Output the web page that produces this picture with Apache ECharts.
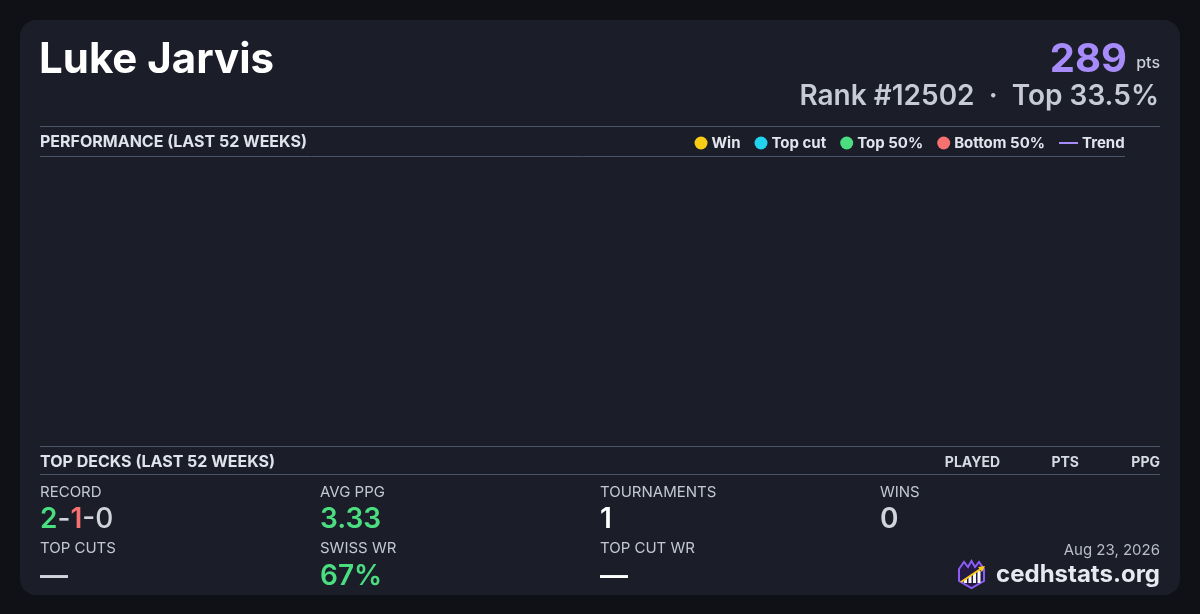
<!DOCTYPE html>
<html>
<head>
<meta charset="utf-8">
<script src="https://cdn.jsdelivr.net/npm/echarts@6/dist/echarts.min.js"></script>
<style>
html,body{margin:0;padding:0;background:#101116;}
#c{width:1200px;height:614px;}
</style>
</head>
<body>
<div id="c"></div>
<script>
// ---- data ----
const playerName = 'Luke Jarvis';
const points = '289';
const rankLine = 'Rank #12502  ·  Top 33.5%';
const perfTitle = 'PERFORMANCE (LAST 52 WEEKS)';
const decksTitle = 'TOP DECKS (LAST 52 WEEKS)';
const deckHeaders = ['PLAYED', 'PTS', 'PPG'];
const legendNames = ['Win', 'Top cut', 'Top 50%', 'Bottom 50%', 'Trend'];
const legendColors = ['#facc15', '#22d3ee', '#4ade80', '#f87171', '#a78bfa'];
const winPoints = [];
const topCutPoints = [];
const top50Points = [];
const bottom50Points = [];
const trendPoints = [];
const record = ['2', '1', '0'];
const statLabelsRow1 = ['RECORD', 'AVG PPG', 'TOURNAMENTS', 'WINS'];
const statValuesRow1 = [null, '3.33', '1', '0'];
const statLabelsRow2 = ['TOP CUTS', 'SWISS WR', 'TOP CUT WR'];
const statValuesRow2 = ['—', '67%', '—'];
const dateText = 'Aug 23, 2026';
const siteText = 'cedhstats.org';

const FONT = 'Inter, "Noto Sans", sans-serif';
const chart = echarts.init(document.getElementById('c'), null, {renderer: 'canvas'});

function txt(x, y, text, font, fill, align, extra) {
  return Object.assign({
    type: 'text', silent: true,
    style: {x: x, y: y, text: text, font: font, fill: fill, textAlign: align || 'left', textVerticalAlign: 'middle'}
  }, extra || {});
}
function hline(x1, x2, y) {
  return {type: 'line', silent: true, shape: {x1: x1, y1: y, x2: x2, y2: y}, style: {stroke: '#4a5569', lineWidth: 1}};
}

const colX = [40, 320, 600, 880];
const row1Colors = [null, '#4ade80', '#ffffff', '#d1d5db'];
const row2Colors = ['#d1d5db', '#4ade80', '#ffffff'];

const graphics = [
  {type: 'rect', silent: true, z: -10, shape: {x: 20, y: 20, width: 1160, height: 575, r: 16}, style: {fill: '#1b1d29'}},
  txt(39, 60, playerName, 'bold 42px ' + FONT, '#ffffff'),
  txt(1127, 60, points, 'bold 40px ' + FONT, '#a78bfa', 'right'),
  txt(1160, 63, 'pts', '500 16px ' + FONT, '#c9cdd8', 'right'),
  txt(1159, 97, rankLine, '600 28px ' + FONT, '#c6cbd6', 'right'),
  hline(40, 1160, 126.5),
  txt(40, 142.5, perfTitle, 'bold 16px ' + FONT, '#dfe3ec'),
  hline(40, 1125, 156.5),
  hline(40, 1160, 446.5),
  txt(40, 462.5, decksTitle, 'bold 16px ' + FONT, '#dfe3ec'),
  txt(1000, 462.5, deckHeaders[0], 'bold 14px ' + FONT, '#d6dae3', 'right'),
  txt(1079, 462.5, deckHeaders[1], 'bold 14px ' + FONT, '#d6dae3', 'right'),
  txt(1160, 462.5, deckHeaders[2], 'bold 14px ' + FONT, '#d6dae3', 'right'),
  hline(40, 1160, 474.5),
  txt(1160, 550, dateText, '15px ' + FONT, '#b9bec9', 'right'),
  txt(1160, 575, siteText, 'bold 24px ' + FONT, '#e6e9f0', 'right')
];

statLabelsRow1.forEach(function (l, i) {
  graphics.push(txt(colX[i], 492.5, l, '15px ' + FONT, '#c3c8d3'));
  if (i === 0) {
    graphics.push({
      type: 'text', silent: true,
      style: {
        x: colX[0], y: 520, textVerticalAlign: 'middle',
        text: '{g|' + record[0] + '}{m|-}{r|' + record[1] + '}{m|-' + record[2] + '}',
        rich: {
          g: {font: '600 28px ' + FONT, fill: '#4ade80'},
          r: {font: '600 28px ' + FONT, fill: '#f87171'},
          m: {font: '500 28px ' + FONT, fill: '#d1d5db'}
        }
      }
    });
  } else {
    graphics.push(txt(colX[i], 520, statValuesRow1[i], '600 28px ' + FONT, row1Colors[i]));
  }
});
statLabelsRow2.forEach(function (l, i) {
  graphics.push(txt(colX[i], 548.5, l, '15px ' + FONT, '#c3c8d3'));
  graphics.push(txt(colX[i], 577, statValuesRow2[i], '600 28px ' + FONT, row2Colors[i]));
});

// logo
graphics.push({
  type: 'group', x: 957, y: 560, silent: true,
  children: [
    {type: 'polygon', shape: {points: [[2, 9], [7, 2], [11, 7], [14.5, 1], [18, 7], [22, 2], [27, 9], [27, 21], [14.5, 28], [2, 21]]},
     style: {fill: '#241a44', stroke: '#8b5cf6', lineWidth: 2}},
    {type: 'rect', shape: {x: 7, y: 19, width: 3, height: 4}, style: {fill: '#f3f4f6'}},
    {type: 'rect', shape: {x: 11.5, y: 16, width: 3, height: 7}, style: {fill: '#f3f4f6'}},
    {type: 'rect', shape: {x: 16, y: 13, width: 3, height: 10}, style: {fill: '#f3f4f6'}},
    {type: 'rect', shape: {x: 20.5, y: 11, width: 3, height: 12}, style: {fill: '#f3f4f6'}},
    {type: 'line', shape: {x1: 4, y1: 22, x2: 25, y2: 8}, style: {stroke: '#facc15', lineWidth: 2}},
    {type: 'polygon', shape: {points: [[28, 6], [21, 7], [25, 12]]}, style: {fill: '#facc15'}}
  ]
});

const seriesData = [winPoints, topCutPoints, top50Points, bottom50Points];
const series = seriesData.map(function (d, i) {
  return {name: legendNames[i], type: 'scatter', data: d, symbolSize: 10, itemStyle: {color: legendColors[i], opacity: 1}};
});
series.push({name: legendNames[4], type: 'line', data: trendPoints, showSymbol: false, lineStyle: {color: legendColors[4], width: 2}, itemStyle: {color: legendColors[4]}});

chart.setOption({
  backgroundColor: '#101116',
  animation: false,
  textStyle: {fontFamily: FONT},
  grid: {left: 40, right: 40, top: 165, bottom: 175},
  xAxis: {type: 'value', show: false},
  yAxis: {type: 'value', show: false},
  legend: [
    {
      data: legendNames.slice(0, 4), icon: 'circle', itemWidth: 13, itemHeight: 13, itemGap: 14,
      right: 155, top: 135.5, padding: 0,
      itemStyle: {opacity: 1},
      textStyle: {color: '#e2e5ee', fontWeight: 'bold', fontSize: 15, fontFamily: FONT, padding: [0, 0, 0, -1]}
    },
    {
      data: [legendNames[4]], icon: 'rect', itemWidth: 19, itemHeight: 2,
      left: 1059, top: 135.5, padding: 0,
      textStyle: {color: '#e2e5ee', fontWeight: 'bold', fontSize: 15, fontFamily: FONT, padding: [0, 0, 0, -1]}
    }
  ],
  series: series,
  graphic: graphics
});
</script>
</body>
</html>
